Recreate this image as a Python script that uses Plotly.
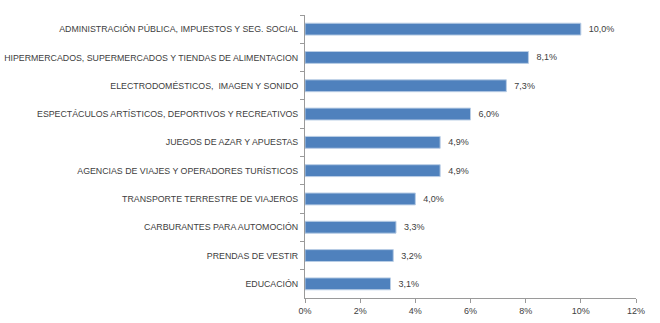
import plotly.graph_objects as go

categories = [
    "ADMINISTRACIÓN PÚBLICA, IMPUESTOS Y SEG. SOCIAL",
    "HIPERMERCADOS, SUPERMERCADOS Y TIENDAS DE ALIMENTACION",
    "ELECTRODOMÉSTICOS,  IMAGEN Y SONIDO",
    "ESPECTÁCULOS ARTÍSTICOS, DEPORTIVOS Y RECREATIVOS",
    "JUEGOS DE AZAR Y APUESTAS",
    "AGENCIAS DE VIAJES Y OPERADORES TURÍSTICOS",
    "TRANSPORTE TERRESTRE DE VIAJEROS",
    "CARBURANTES PARA AUTOMOCIÓN",
    "PRENDAS DE VESTIR",
    "EDUCACIÓN",
]
values = [10.0, 8.1, 7.3, 6.0, 4.9, 4.9, 4.0, 3.3, 3.2, 3.1]
x_ticks = [0, 2, 4, 6, 8, 10, 12]
x_tick_labels = ["0%", "2%", "4%", "6%", "8%", "10%", "12%"]

labels = ["\u00a0\u00a0" + f"{v:.1f}%".replace(".", ",") for v in values]

fig = go.Figure(go.Bar(
    x=values,
    y=categories,
    orientation="h",
    marker=dict(color="#4F81BD", line=dict(color="#B9CDE5", width=1)),
    text=labels,
    textposition="outside",
    textfont=dict(size=9, color="#404040", family="Liberation Sans, Arial"),
    cliponaxis=False,
))

fig.update_layout(
    width=660, height=323,
    margin=dict(l=305, r=24, t=15, b=25, autoexpand=False),
    paper_bgcolor="white", plot_bgcolor="white",
    bargap=0.58,
    showlegend=False,
    font=dict(family="Liberation Sans, Arial", size=9, color="#404040"),
)
fig.update_xaxes(
    range=[0, 12],
    tickvals=x_ticks, ticktext=x_tick_labels,
    showgrid=False, zeroline=False,
    showline=True, linecolor="#9a9a9a", linewidth=1,
    ticks="outside", ticklen=4, tickcolor="#9a9a9a",
    tickfont=dict(size=9, color="#404040"),
    automargin=False,
)
fig.update_yaxes(
    autorange="reversed",
    showgrid=False,
    showline=True, linecolor="#9a9a9a", linewidth=1,
    ticks="outside", ticklen=4, tickcolor="#9a9a9a",
    tickson="boundaries",
    tickfont=dict(size=8.8, color="#404040"),
    ticklabelstandoff=4,
    automargin=False,
)

fig.write_html("out.html")
